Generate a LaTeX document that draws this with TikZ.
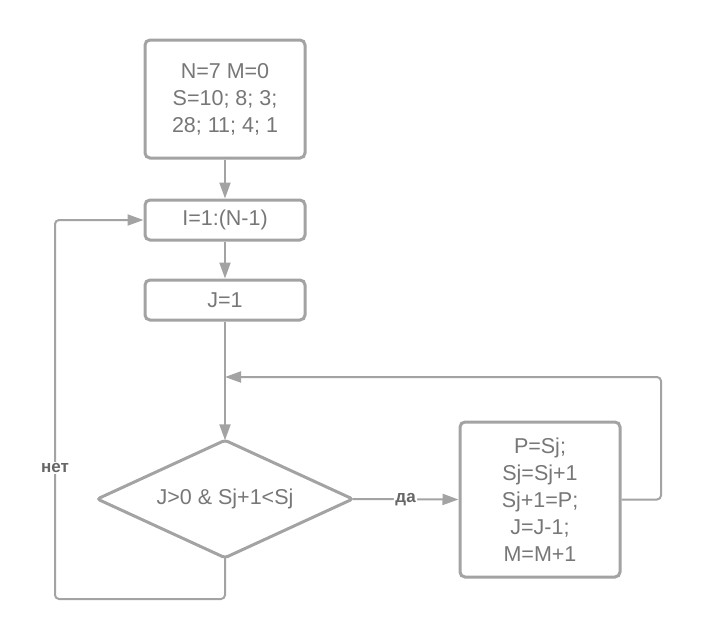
\documentclass[tikz,border=0pt]{standalone}
\usepackage{fontspec}
\setmainfont{Liberation Sans}
\usetikzlibrary{arrows.meta}
\definecolor{linec}{HTML}{A3A3A3}
\definecolor{textc}{HTML}{777777}
\definecolor{labc}{HTML}{666666}
\tikzset{
  box/.style={draw=linec, line width=3pt, rounded corners=5pt, fill=white,
    text=textc, align=center, inner sep=0pt,
    font=\fontsize{21.5}{27}\selectfont},
  dec/.style={inner sep=0pt, minimum width=255pt, minimum height=117pt,
    text=textc, font=\fontsize{21.5}{27}\selectfont},
  decline/.style={draw=linec, line width=3pt, rounded corners=3pt},
  conn/.style={draw=linec, line width=2pt, rounded corners=4pt,
    -{Triangle[length=16pt,width=11pt]}},
  lab/.style={fill=white, text=labc, inner sep=1.5pt,
    font=\bfseries\fontsize{17}{19}\selectfont},
}
\begin{document}
\begin{tikzpicture}[x=1pt,y=-1pt]
\useasboundingbox (0,0) rectangle (702,641);
\node[box, minimum width=160pt, minimum height=118pt] (top) at (225,99)
  {N=7 M=0\\S=10; 8; 3;\\28; 11; 4; 1};
\node[box, minimum width=160pt, minimum height=40pt] (i) at (225,220) {I=1:(N-1)};
\node[box, minimum width=160pt, minimum height=40pt] (j) at (225,300) {J=1};
\node[dec] (d) at (225,499) {J>0 \& Sj+1<Sj};
\draw[decline] (d.north) -- (d.east) -- (d.south) -- (d.west) -- cycle;
\node[box, minimum width=160pt, minimum height=155pt] (r) at (540,499.5)
  {P=Sj;\\Sj=Sj+1\\Sj+1=P;\\J=J-1;\\M=M+1};
\coordinate (m) at (225,377);
\coordinate (rr) at (661,499.5);
\coordinate (bl) at (55,599);
\draw[conn] (top.south) -- (i.north);
\draw[conn] (i.south) -- (j.north);
\draw[conn] (j.south) -- (d.north);
\draw[conn] (d.east) -- node[lab, pos=0.5] {да} (r.west);
\draw[conn] (r.east) -- (rr) |- (m);
\draw[conn] (d.south) |- (bl) |- (i.west);
\node[lab] (net) at (55,468) {нет};
\end{tikzpicture}
\end{document}
